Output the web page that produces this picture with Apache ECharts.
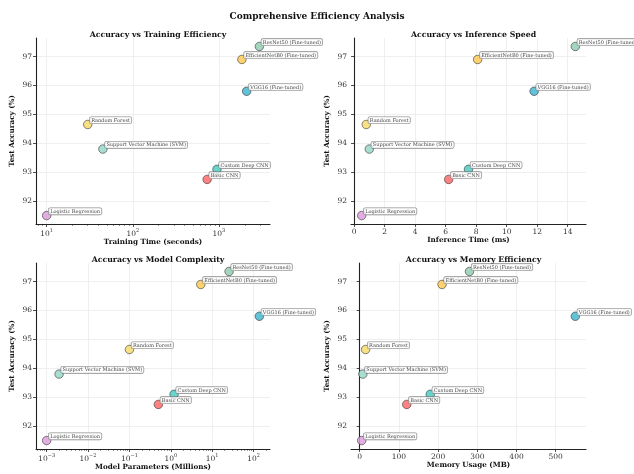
<!DOCTYPE html>
<html><head><meta charset="utf-8">
<script src="https://cdn.jsdelivr.net/npm/echarts@6/dist/echarts.min.js"></script>
<style>html,body{margin:0;padding:0;background:#fff}#c{width:634px;height:474px}</style>
</head><body><div id="c"></div>
<script>
const models = ['Logistic Regression','Random Forest','Support Vector Machine (SVM)','Basic CNN','Custom Deep CNN','VGG16 (Fine-tuned)','ResNet50 (Fine-tuned)','EfficientNetB0 (Fine-tuned)'];
const accuracy = [91.5, 94.65, 93.8, 92.75, 93.1, 95.8, 97.35, 96.9];
const trainingTime = [10, 30, 45, 730, 950, 2100, 2950, 1850];
const inferenceTime = [0.5, 0.8, 1.0, 6.2, 7.5, 11.8, 14.5, 8.1];
const paramsM = [0.001, 0.1, 0.002, 0.5, 1.2, 138, 25.6, 5.3];
const memoryMB = [5, 15, 8, 120, 180, 550, 280, 210];
const colors = ['#DDA0DD','#F7DC6F','#98D8C8','#FF6B6B','#4ECDC4','#45B7D1','#96CEB4','#FECA57'];
const yTicks = [92, 93, 94, 95, 96, 97];
const trainTicks = [10, 100, 1000];
const infTicks = [0, 2, 4, 6, 8, 10, 12, 14];
const paramTicks = [0.001, 0.01, 0.1, 1, 10, 100];
const memTicks = [0, 100, 200, 300, 400, 500];
const titles = ['Accuracy vs Training Efficiency','Accuracy vs Inference Speed','Accuracy vs Model Complexity','Accuracy vs Memory Efficiency'];
const xNames = ['Training Time (seconds)','Inference Time (ms)','Model Parameters (Millions)','Memory Usage (MB)'];
const mainTitle = 'Comprehensive Efficiency Analysis';

const FONT = 'DejaVu Serif';
const grids = [
  {left:36, top:38, width:234, height:186},
  {left:351, top:38, width:235, height:186},
  {left:36, top:263, width:234, height:186},
  {left:351, top:263, width:235, height:186}
];
function linExt(arr){const a=Math.min(...arr),b=Math.max(...arr),m=(b-a)*0.05;return [a-m,b+m];}
function logExt(arr){const a=Math.log10(Math.min(...arr)),b=Math.log10(Math.max(...arr)),m=(b-a)*0.05;return [Math.pow(10,a-m),Math.pow(10,b+m)];}
function minorTicks(ext){const r=[];const lo=Math.floor(Math.log10(ext[0])),hi=Math.ceil(Math.log10(ext[1]));for(let e=lo;e<=hi;e++){for(let k=2;k<=9;k++){const v=k*Math.pow(10,e);if(v>=ext[0]&&v<=ext[1])r.push(v);}}return r;}
const yExt = linExt(accuracy);
const xData = [trainingTime, inferenceTime, paramsM, memoryMB];
const xIsLog = [true,false,true,false];
const xTickVals = [trainTicks, infTicks, paramTicks, memTicks];
const xExts = xData.map((d,i)=> xIsLog[i]? logExt(d): linExt(d));

const axisLineStyle = {color:'#222', width:1.1};
const tickLabel = {fontFamily:FONT, fontSize:7.5, color:'#333'};
function supFmt(v){const e=Math.round(Math.log10(v));return '{b|10}{s|'+(e<0?'\u2212'+(-e):e)+'}';}

const xAxes = [], yAxes = [], series = [], titleArr = [];
titleArr.push({text:mainTitle, left:'center', top:7, textStyle:{fontFamily:FONT, fontWeight:'bold', fontSize:9, color:'#111'}});
for (let i=0;i<4;i++){
  const g = grids[i];
  titleArr.push({text:titles[i], left:g.left+g.width/2, textAlign:'center', top:g.top-12, textStyle:{fontFamily:FONT, fontWeight:'bold', fontSize:7.8, color:'#111'}});
  xAxes.push({
    gridIndex:i, type: xIsLog[i]?'log':'value', logBase:10,
    min:xExts[i][0], max:xExts[i][1],
    name:xNames[i], nameLocation:'middle', nameGap:13,
    nameTextStyle:{fontFamily:FONT, fontWeight:'bold', fontSize:7.2, color:'#111'},
    axisLine:{show:true, onZero:false, lineStyle:axisLineStyle},
    axisTick:{show:true, length:3, inside:false, customValues:xTickVals[i], lineStyle:{color:'#222',width:0.8}},
    axisLabel:{customValues:xTickVals[i], margin:4, ...tickLabel,
      formatter: xIsLog[i]? supFmt : (v=>String(v)),
      rich: xIsLog[i]? {b:{fontFamily:FONT,fontSize:7.5,color:'#333',verticalAlign:'bottom'}, s:{fontFamily:FONT,fontSize:5,color:'#333',padding:[0,0,5,0],verticalAlign:'bottom'}} : undefined},
    splitLine:{show:true, lineStyle:{color:'#ebebeb', width:0.8}}
  });
  yAxes.push({
    gridIndex:i, type:'value', min:yExt[0], max:yExt[1],
    name:'Test Accuracy (%)', nameLocation:'middle', nameGap:20, nameRotate:90,
    nameTextStyle:{fontFamily:FONT, fontWeight:'bold', fontSize:7.2, color:'#111'},
    axisLine:{show:true, lineStyle:axisLineStyle},
    axisTick:{show:true, length:3, customValues:yTicks, lineStyle:{color:'#222',width:0.8}},
    axisLabel:{customValues:yTicks, margin:4, ...tickLabel},
    splitLine:{show:true, lineStyle:{color:'#ebebeb', width:0.8}}
  });
  series.push({
    type:'scatter', xAxisIndex:i, yAxisIndex:i, symbolSize:8.5,
    data: models.map((m,k)=>({name:m, value:[xData[i][k], accuracy[k]],
      itemStyle:{color:colors[k], opacity:0.85, borderColor:'#333', borderWidth:0.7}})),
    label:{show:true, formatter:'{b}', position:'inside', align:'left', verticalAlign:'bottom', offset:[2,-1],
      fontFamily:FONT, fontSize:5, color:'#222', backgroundColor:'rgba(255,255,255,0.85)',
      borderColor:'#777', borderWidth:0.6, borderRadius:1.5, padding:[1,1.5,0.5,1.5]},
    emphasis:{disabled:true}, z:3
  });
}
[0,2].forEach(i=>{
  xAxes.push({gridIndex:i, type:'log', logBase:10, min:xExts[i][0], max:xExts[i][1], position:'bottom',
    axisLine:{show:false}, axisLabel:{show:false}, splitLine:{show:false},
    axisTick:{show:true, length:1.8, customValues:minorTicks(xExts[i]), lineStyle:{color:'#222',width:0.6}}});
});
const chart = echarts.init(document.getElementById('c'), null, {renderer:'canvas'});
chart.setOption({backgroundColor:'#fff', animation:false, title:titleArr, grid:grids, xAxis:xAxes, yAxis:yAxes, series:series});
</script></body></html>
